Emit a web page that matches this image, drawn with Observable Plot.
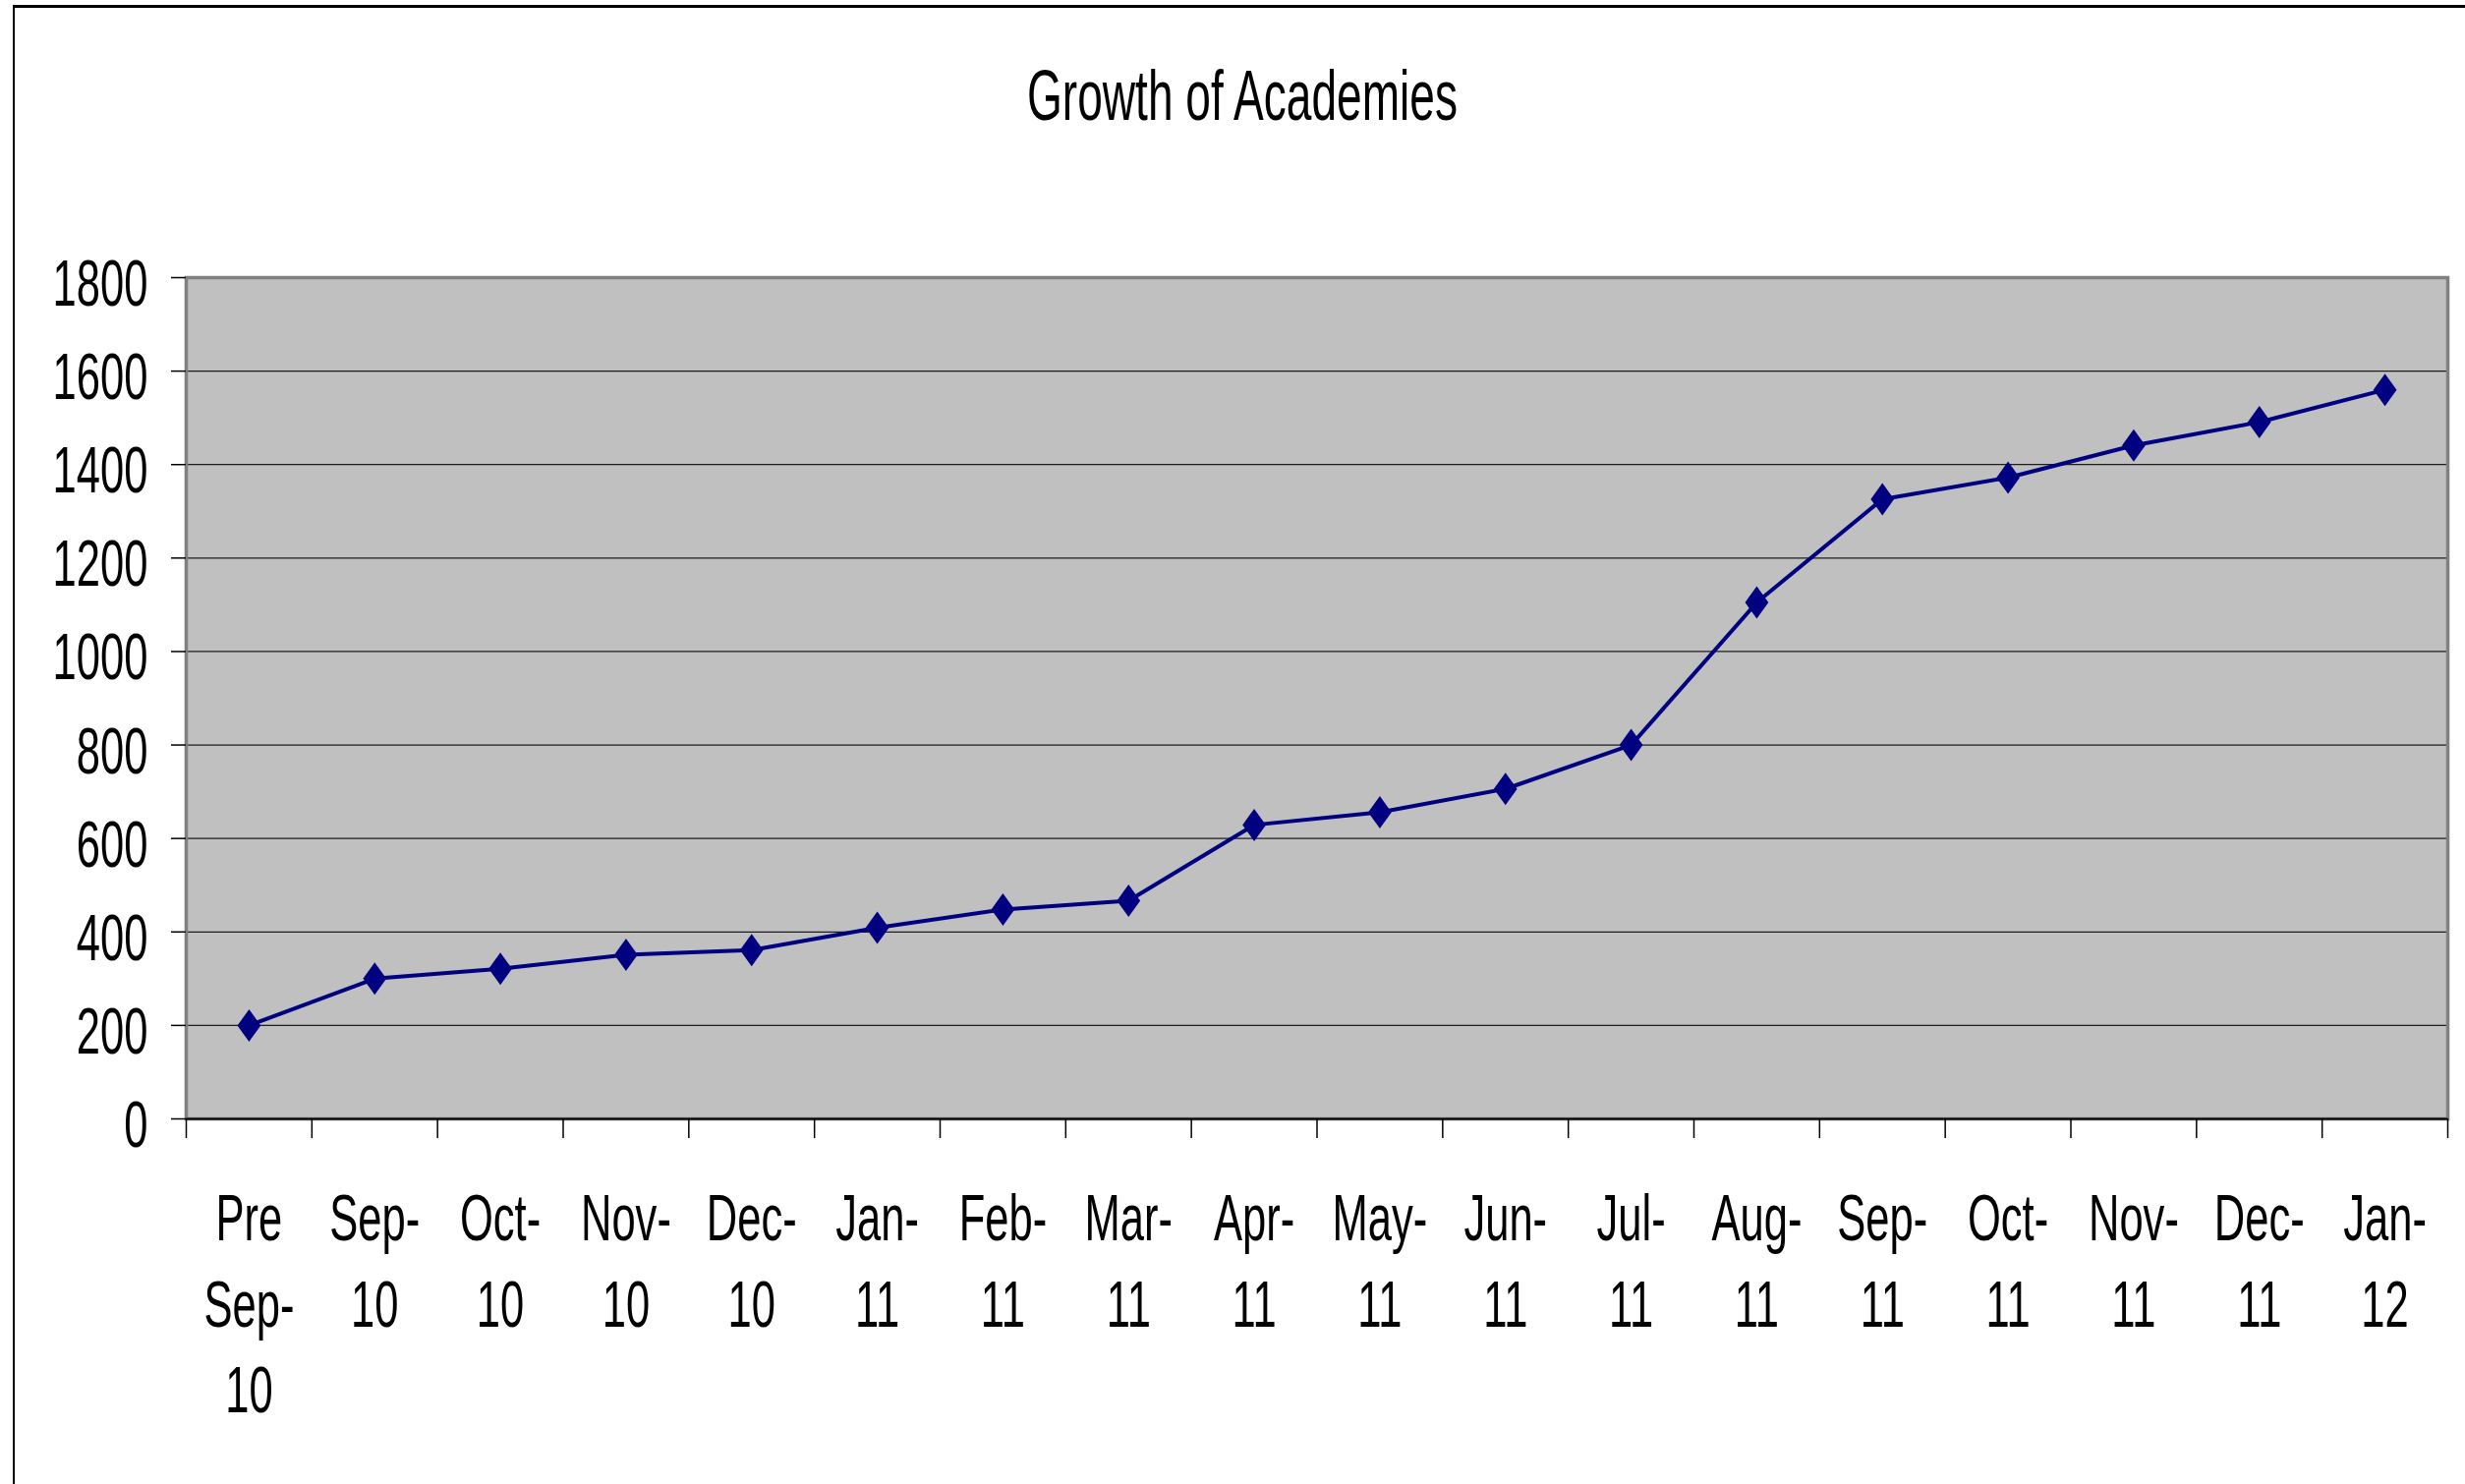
<!DOCTYPE html>
<html><head><meta charset="utf-8">
<script src="https://cdn.jsdelivr.net/npm/d3@7"></script>
<script src="https://cdn.jsdelivr.net/npm/@observablehq/plot@0.6"></script>
<style>
html,body{margin:0;padding:0;background:#fff;}
#wrap{position:relative;width:2508px;height:1510px;overflow:hidden;font-family:"Liberation Sans",Arial,sans-serif;background:#fff;}
#border{position:absolute;left:13px;top:5px;right:-10px;bottom:-10px;border-top:3px solid #000;border-left:2px solid #000;}
#title{position:absolute;left:0;top:61px;width:2528px;text-align:center;font-size:72px;line-height:72px;transform:scaleX(0.64);transform-origin:1264px 0;color:#000;white-space:nowrap;}
#chart{position:absolute;left:0;top:0;}
</style></head><body>
<div id="wrap"><div id="border"></div><div id="chart"></div><div id="title">Growth of Academies</div></div>
<script>
const categories = ["Pre\nSep-\n10","Sep-\n10","Oct-\n10","Nov-\n10","Dec-\n10","Jan-\n11","Feb-\n11","Mar-\n11","Apr-\n11","May-\n11","Jun-\n11","Jul-\n11","Aug-\n11","Sep-\n11","Oct-\n11","Nov-\n11","Dec-\n11","Jan-\n12"];
const academies = [200, 300, 321, 351, 361, 409, 448, 467, 629, 656, 706, 800, 1105, 1326, 1372, 1441, 1491, 1560];
const yTicks = [0, 200, 400, 600, 800, 1000, 1200, 1400, 1600, 1800];

const rows = categories.map((label, i) => ({pos: i + 0.5, label, value: academies[i]}));
const boundaries = categories.map((_, i) => i).concat([categories.length]);

const tallDiamond = {
  draw(context, size) {
    const r = Math.sqrt(size / Math.PI);
    const w = r * 0.72;
    context.moveTo(0, -r);
    context.lineTo(w, 0);
    context.lineTo(0, r);
    context.lineTo(-w, 0);
    context.closePath();
  }
};

const chart = Plot.plot({
  width: 2508, height: 1510,
  marginLeft: 189, marginRight: 18, marginTop: 282, marginBottom: 372,
  style: {fontFamily: "'Liberation Sans', Arial, sans-serif", background: "transparent", color: "#000", overflow: "visible"},
  x: {type: "linear", domain: [0, categories.length]},
  y: {domain: [0, 1800]},
  marks: [
    Plot.frame({fill: "#c0c0c0", stroke: "none"}),
    Plot.ruleY(yTicks, {stroke: "#000", strokeWidth: 1.2, strokeOpacity: 0.85}),
    Plot.frame({stroke: "#808080", strokeWidth: 3.5}),
    Plot.ruleY([0], {stroke: "#000", strokeWidth: 2}),
    Plot.axisY({ticks: yTicks, tickSize: 15, fill: "none", tickFormat: () => "", label: null, stroke: "#000", strokeWidth: 1.5}),
    Plot.axisY({ticks: yTicks, tickSize: 0, tickPadding: 39, dy: 7, fontSize: 67, tickFormat: d => String(d), label: null}),
    Plot.axisX({ticks: boundaries, tickSize: 20, fill: "none", tickFormat: () => "", label: null, stroke: "#000", strokeWidth: 1.5}),
    Plot.text(rows, {x: "pos", text: "label", frameAnchor: "bottom", lineAnchor: "top", dy: 61, fontSize: 67, lineHeight: 1.31, fill: "#000"}),
    Plot.line(rows, {x: "pos", y: "value", stroke: "#000080", strokeWidth: 4}),
    Plot.dot(rows, {x: "pos", y: "value", symbol: tallDiamond, r: 16.5, fill: "#000080", stroke: "none"})
  ]
});

// horizontally condense the glyphs around each text anchor (the reference type is squeezed)
d3.select(chart).selectAll("text").each(function() {
  const t = this.getAttribute("transform") || "";
  const x = parseFloat(this.getAttribute("x")) || 0;
  this.setAttribute("transform", `${t} translate(${x},0) scale(0.65,1) translate(${-x},0)`);
});

document.getElementById("chart").appendChild(chart);
</script>
</body></html>
